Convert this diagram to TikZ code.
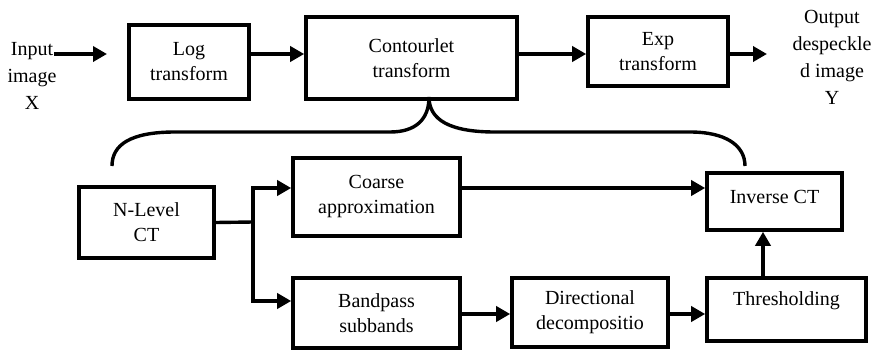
\documentclass[tikz,border=0pt]{standalone}
\usepackage{fontspec}
\setmainfont{Liberation Serif}
\newfontfamily\diagfont{Liberation Serif}
\usetikzlibrary{arrows.meta}
\begin{document}
\begin{tikzpicture}[x=1pt,y=-1pt,
  box/.style={draw, line width=3.6pt, align=center, inner sep=0pt, rectangle,
    font=\diagfont\fontsize{20}{25}\selectfont},
  arr/.style={line width=3.6pt, -{Triangle[length=14pt,width=15pt]}},
  ln/.style={line width=3.4pt},
  lbl/.style={align=center, inner sep=0pt, anchor=north,
    font=\diagfont\fontsize{20}{27}\selectfont}]
\useasboundingbox (0,0) rectangle (876,351);
% top row
\node[lbl] (in) at (32,42) {Input\\image\\X};
\node[box, minimum width=120, minimum height=74] (log) at (189,62) {Log\\transform};
\node[box, minimum width=211, minimum height=82] (ct) at (411.5,58) {Contourlet\\transform};
\node[box, minimum width=140, minimum height=69] (exp) at (658,51.5) {Exp\\transform};
\node[lbl] (out) at (832,10) {Output\\despeckle\\d image\\Y};
% bottom part
\node[box, minimum width=135, minimum height=71] (nl) at (146.5,222.5) {N-Level\\CT};
\node[box, minimum width=167, minimum height=78] (coarse) at (376.5,197) {Coarse\\approximation};
\node[box, minimum width=167, minimum height=70] (band) at (376.5,313) {Bandpass\\subbands};
\node[box, minimum width=156, minimum height=69] (dir) at (590,312.5) {Directional\\decompositio};
\node[box, minimum width=159, minimum height=63, text depth=22pt] (thr) at (786.5,309.5) {Thresholding};
\node[box, minimum width=135, minimum height=57, text depth=9pt] (inv) at (774.5,201.5) {Inverse CT};
% coordinates
\coordinate (inA) at (54,54);
\coordinate (inB) at (107,54);
\coordinate (outB) at (767,54);
\coordinate (br) at (253,222);
\coordinate (peak) at (429,97);
\coordinate (bl) at (112,166);
\coordinate (brr) at (745,166);
% connectors
\draw[arr] (inA) -- (inB);
\draw[arr] (log.east |- inA) -- (ct.west |- inA);
\draw[arr] (ct.east |- inA) -- (exp.west |- inA);
\draw[arr] (exp.east |- inA) -- (outB);
\draw[ln] (nl.east) -- (br);
\draw[arr] (br) |- (coarse.west |- 0,188);
\draw[arr] (br) |- (band.west |- 0,301);
\draw[arr] (coarse.east |- 0,188) -- (inv.west |- 0,188);
\draw[arr] (band.east |- 0,314) -- (dir.west |- 0,314);
\draw[arr] (dir.east |- 0,314) -- (thr.west |- 0,314);
\draw[arr] (thr.north -| 763,0) -- (inv.south -| 763,0);
% brace
\draw[ln] (bl) .. controls (112,145) and (130,132) .. (175,132) -- (390,132)
  .. controls (415,132) and (429,120) .. (peak)
  .. controls (429,120) and (450,132) .. (495,132) -- (690,132)
  .. controls (725,132) and (745,145) .. (brr);
\end{tikzpicture}
\end{document}
